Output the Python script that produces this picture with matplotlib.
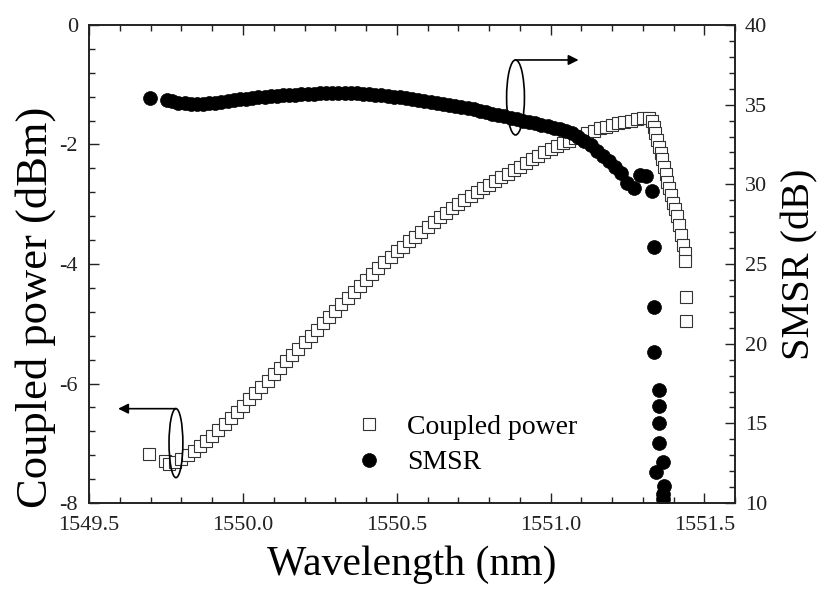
import matplotlib
matplotlib.use("Agg")
import matplotlib.pyplot as plt
from matplotlib.patches import Ellipse
from matplotlib.ticker import MultipleLocator, FormatStrFormatter

plt.rcParams['font.family'] = ['Liberation Serif', 'DejaVu Serif']
plt.rcParams['axes.unicode_minus'] = False

# Coupled power vs wavelength
power_wl = [
    1549.695, 1549.745, 1549.760,
    1549.78, 1549.80, 1549.82, 1549.84, 1549.86, 1549.88, 1549.90, 1549.92, 1549.94, 1549.96,
    1549.98, 1550.00, 1550.02, 1550.04, 1550.06, 1550.08, 1550.10, 1550.12, 1550.14, 1550.16,
    1550.18, 1550.20, 1550.22, 1550.24, 1550.26, 1550.28, 1550.30, 1550.32, 1550.34, 1550.36,
    1550.38, 1550.40, 1550.42, 1550.44, 1550.46, 1550.48, 1550.50, 1550.52, 1550.54, 1550.56,
    1550.58, 1550.60, 1550.62, 1550.64, 1550.66, 1550.68, 1550.70, 1550.72, 1550.74, 1550.76,
    1550.78, 1550.80, 1550.82, 1550.84, 1550.86, 1550.88, 1550.90, 1550.92, 1550.94, 1550.96,
    1550.98, 1551.00, 1551.02, 1551.04, 1551.06, 1551.08, 1551.10, 1551.12, 1551.14, 1551.16,
    1551.18, 1551.20, 1551.22, 1551.24, 1551.26, 1551.28, 1551.30, 1551.32,
    1551.330, 1551.335, 1551.340, 1551.345, 1551.352, 1551.358, 1551.362, 1551.368, 1551.375, 1551.380,
    1551.386, 1551.392, 1551.398, 1551.404, 1551.410, 1551.418, 1551.425, 1551.432, 1551.436, 1551.438,
    1551.440, 1551.440,
]
power_dbm = [
    -7.17, -7.29, -7.35,
    -7.31, -7.26, -7.20, -7.13, -7.05, -6.96, -6.87, -6.77, -6.67, -6.57,
    -6.47, -6.37, -6.26, -6.16, -6.05, -5.95, -5.84, -5.74, -5.63, -5.52,
    -5.42, -5.31, -5.20, -5.10, -4.99, -4.88, -4.78, -4.67, -4.57, -4.46,
    -4.36, -4.26, -4.16, -4.06, -3.97, -3.88, -3.79, -3.71, -3.62, -3.54,
    -3.46, -3.38, -3.30, -3.22, -3.15, -3.07, -3.00, -2.93, -2.86, -2.80,
    -2.73, -2.67, -2.61, -2.55, -2.49, -2.43, -2.37, -2.31, -2.25, -2.19,
    -2.13, -2.08, -2.03, -1.98, -1.94, -1.89, -1.85, -1.81, -1.77, -1.73,
    -1.70, -1.67, -1.64, -1.62, -1.60, -1.58, -1.56, -1.55,
    -1.60, -1.70, -1.80, -1.92, -2.05, -2.15, -2.25, -2.38, -2.50, -2.62,
    -2.72, -2.85, -2.98, -3.08, -3.20, -3.35, -3.52, -3.68, -3.82, -3.95,
    -4.55, -4.95,
]

# Side-mode suppression ratio vs wavelength
smsr_wl = [
    1549.698, 1549.752,
    1549.77, 1549.79, 1549.81, 1549.83, 1549.85, 1549.87, 1549.89, 1549.91, 1549.93, 1549.95,
    1549.97, 1549.99, 1550.01, 1550.03, 1550.05, 1550.07, 1550.09, 1550.11, 1550.13, 1550.15,
    1550.17, 1550.19, 1550.21, 1550.23, 1550.25, 1550.27, 1550.29, 1550.31, 1550.33, 1550.35,
    1550.37, 1550.39, 1550.41, 1550.43, 1550.45, 1550.47, 1550.49, 1550.51, 1550.53, 1550.55,
    1550.57, 1550.59, 1550.61, 1550.63, 1550.65, 1550.67, 1550.69, 1550.71, 1550.73, 1550.75,
    1550.77, 1550.79, 1550.81, 1550.83, 1550.85, 1550.87, 1550.89, 1550.91, 1550.93, 1550.95,
    1550.97, 1550.99, 1551.01, 1551.03, 1551.05, 1551.07, 1551.09, 1551.11, 1551.13, 1551.15,
    1551.17, 1551.19, 1551.21, 1551.23, 1551.25, 1551.27, 1551.29, 1551.31, 1551.33,
    1551.335, 1551.335, 1551.335, 1551.351, 1551.351, 1551.351, 1551.351, 1551.364, 1551.344, 1551.370,
    1551.364, 1551.367,
]
smsr_db = [
    35.40, 35.30,
    35.20, 35.12, 35.08, 35.05, 35.05, 35.06, 35.08, 35.12, 35.17, 35.22,
    35.28, 35.33, 35.38, 35.42, 35.46, 35.50, 35.53, 35.56, 35.58, 35.60,
    35.62, 35.64, 35.66, 35.68, 35.70, 35.70, 35.72, 35.72, 35.72, 35.70,
    35.70, 35.68, 35.66, 35.62, 35.58, 35.54, 35.49, 35.45, 35.40, 35.35,
    35.29, 35.23, 35.17, 35.11, 35.05, 34.98, 34.91, 34.84, 34.77, 34.70,
    34.62, 34.53, 34.44, 34.35, 34.26, 34.17, 34.08, 33.99, 33.90, 33.82,
    33.73, 33.64, 33.55, 33.46, 33.36, 33.20, 32.98, 32.72, 32.45, 32.12,
    31.78, 31.45, 31.10, 30.70, 30.10, 29.75, 30.60, 30.50, 29.60,
    26.10, 22.30, 19.50, 17.10, 16.10, 15.00, 13.80, 12.60, 11.95, 11.10,
    10.60, 10.25,
]

x_ticks = [1549.5, 1550.0, 1550.5, 1551.0, 1551.5]
left_ticks = [0, -2, -4, -6, -8]
right_ticks = [10, 15, 20, 25, 30, 35, 40]

fig = plt.figure(figsize=(8.26, 5.94), dpi=100)
ax = fig.add_axes([0.108, 0.153, 0.782, 0.805])
ax2 = ax.twinx()

sq, = ax.plot(power_wl, power_dbm, linestyle='none', marker='s', markersize=8.5,
              markerfacecolor='white', markeredgecolor='#333333', markeredgewidth=0.8,
              label='Coupled power')
ci, = ax2.plot(smsr_wl, smsr_db, linestyle='none', marker='o', markersize=10,
               markerfacecolor='black', markeredgecolor='black', markeredgewidth=0.5,
               label='SMSR')

ax.set_xlim(1549.5, 1551.6)
ax.set_ylim(-8, 0)
ax2.set_ylim(10, 40)

ax.set_xticks(x_ticks)
ax.xaxis.set_major_formatter(FormatStrFormatter('%.1f'))
ax.xaxis.set_minor_locator(MultipleLocator(0.1))
ax.set_yticks(left_ticks)
ax.yaxis.set_minor_locator(MultipleLocator(0.4))
ax2.set_yticks(right_ticks)
ax2.yaxis.set_minor_locator(MultipleLocator(1))

ax.tick_params(axis='both', which='both', direction='in', top=True, right=False,
               labelsize=16, width=1.0, colors='#222222')
ax.tick_params(axis='x', which='major', length=7, pad=9)
ax.tick_params(axis='y', which='major', length=7, pad=8)
ax.tick_params(which='minor', length=4)
ax2.tick_params(axis='y', which='both', direction='in', labelsize=16, width=1.0,
                colors='#222222')
ax2.tick_params(which='major', length=7, pad=7)
ax2.tick_params(which='minor', length=4)

for a in (ax, ax2):
    for s in a.spines.values():
        s.set_linewidth(1.2)
        s.set_color('#222222')

ax.set_xlabel('Wavelength (nm)', fontsize=30, labelpad=8)
ax.set_ylabel('Coupled power (dBm)', fontsize=32)
ax.yaxis.set_label_coords(-0.052, 0.41)
ax2.set_ylabel('SMSR (dB)', fontsize=29, labelpad=10)

# Ellipses with arrows marking which axis each curve belongs to
ax.add_patch(Ellipse((1549.782, -6.996), 0.045, 1.155, fill=False,
                     edgecolor='black', linewidth=1.2, zorder=5))
ax.annotate('', xy=(1549.594, -6.42), xytext=(1549.782, -6.42),
            arrowprops=dict(arrowstyle='-|>', color='black', lw=1.2,
                            mutation_scale=15, shrinkA=0, shrinkB=0))
ax.add_patch(Ellipse((1550.886, -1.213), 0.058, 1.255, fill=False,
                     edgecolor='black', linewidth=1.2, zorder=5))
ax.annotate('', xy=(1551.091, -0.586), xytext=(1550.886, -0.586),
            arrowprops=dict(arrowstyle='-|>', color='black', lw=1.2,
                            mutation_scale=15, shrinkA=0, shrinkB=0))

ax2.legend([sq, ci], ['Coupled power', 'SMSR'], loc='upper left',
           bbox_to_anchor=(0.398, 0.203), frameon=False, fontsize=20,
           handlelength=1.0, handletextpad=0.9, labelspacing=0.36,
           borderpad=0.3, borderaxespad=0)

fig.savefig('out.png', dpi=100)
